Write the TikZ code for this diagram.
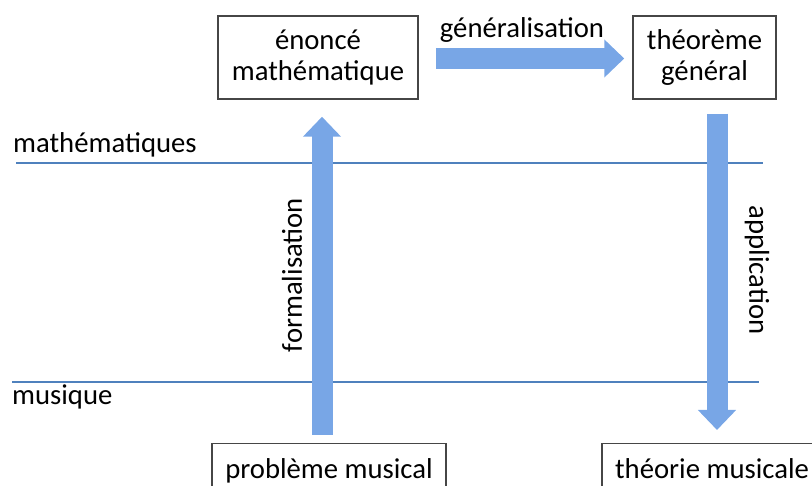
\documentclass[tikz,border=0pt]{standalone}
\usepackage{fontspec}
\setmainfont{Carlito}
\usetikzlibrary{positioning,arrows.meta}

\definecolor{laneblue}{RGB}{79,129,189}
\definecolor{arrowblue}{RGB}{120,166,230}
\definecolor{boxgray}{RGB}{70,70,70}

\begin{document}
\begin{tikzpicture}[x=1pt,y=-1pt,
                    every node/.style={font=\fontsize{28.7}{31}\selectfont,text=black,inner sep=0pt},
                    box/.style={draw=boxgray,line width=1.5pt,align=center},
                    lane/.style={draw=laneblue,line width=2.5pt},
                    fat arrow/.style={draw=arrowblue,line width=21pt,-{Triangle[length=20pt,width=37pt]}}
                   ]
  \useasboundingbox (0,0) rectangle (812,486);
  \clip (0,0) rectangle (812,486);

  % boxes
  \node[box,minimum width=200pt,minimum height=83pt] (em) at (318,57.5) {énoncé\\mathématique};
  \node[box,minimum width=143pt,minimum height=83pt] (tg) at (704.5,57.5) {théorème\\général};
  \node[box,minimum width=234pt,text height=21pt,text depth=6pt,inner ysep=14pt,anchor=north] (pb) at (329,443) {problème musical};
  \node[box,minimum width=220pt,text height=21pt,text depth=6pt,inner ysep=14pt,anchor=north] (tm) at (712,443) {théorie musicale};

  % domains
  \coordinate (m0) at (16,163);
  \coordinate (m1) at (763,163);
  \coordinate (u0) at (12,382);
  \coordinate (u1) at (759,382);
  \draw[lane] (m0) -- (m1);
  \draw[lane] (u0) -- (u1);
  \node[anchor=base west] (lmath) at (13,153) {mathématiques};
  \node[anchor=base west] (lmus) at (12,405) {musique};

  % steps
  \draw[fat arrow] ([xshift=-7pt,yshift=8pt]pb.north) -- ([xshift=4pt,yshift=-17pt]em.south);
  \draw[fat arrow] ([xshift=17pt,yshift=-1pt]em.east) -- ([xshift=-8pt,yshift=-1pt]tg.west);
  \draw[fat arrow] ([xshift=12.5pt,yshift=-14pt]tg.south) -- ([xshift=5pt,yshift=13pt]tm.north);
  \node[anchor=base] (lgen) at (522,38) {généralisation};
  \node[rotate=90] (lform) at (292,275) {formalisation};
  \node[rotate=-90] (lapp) at (757,270) {application};
\end{tikzpicture}
\end{document}
